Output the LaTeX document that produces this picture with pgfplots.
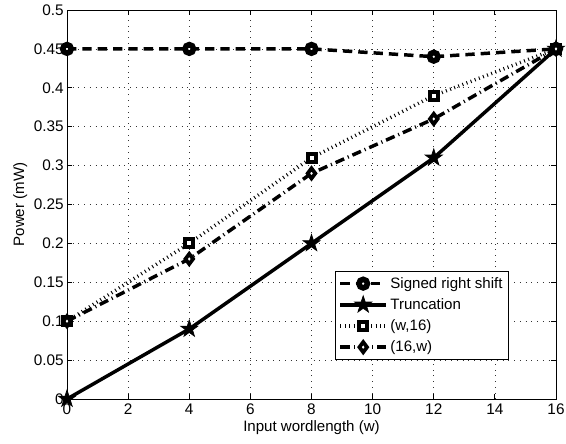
\documentclass[border=0pt]{standalone}
\usepackage{pgfplots}
\pgfplotsset{compat=1.18}
\usepackage{fontspec}
\setmainfont{Liberation Sans}
\usetikzlibrary{plotmarks}
\pgfdeclareplotmark{pentastar}{%
  \pgfpathmoveto{\pgfqpointpolar{90}{1.3\pgfplotmarksize}}%
  \pgfpathlineto{\pgfqpointpolar{126}{0.5\pgfplotmarksize}}%
  \pgfpathlineto{\pgfqpointpolar{162}{1.3\pgfplotmarksize}}%
  \pgfpathlineto{\pgfqpointpolar{198}{0.5\pgfplotmarksize}}%
  \pgfpathlineto{\pgfqpointpolar{234}{1.3\pgfplotmarksize}}%
  \pgfpathlineto{\pgfqpointpolar{270}{0.5\pgfplotmarksize}}%
  \pgfpathlineto{\pgfqpointpolar{306}{1.3\pgfplotmarksize}}%
  \pgfpathlineto{\pgfqpointpolar{342}{0.5\pgfplotmarksize}}%
  \pgfpathlineto{\pgfqpointpolar{18}{1.3\pgfplotmarksize}}%
  \pgfpathlineto{\pgfqpointpolar{54}{0.5\pgfplotmarksize}}%
  \pgfpathclose
  \pgfusepathqfillstroke}
\begin{document}
\begin{tikzpicture}
\begin{axis}[
  scale only axis,
  width=366.75pt, height=291.75pt,
  xmin=0, xmax=16, ymin=0, ymax=0.5,
  xtick={0,2,...,16},
  ytick={0,0.05,...,0.5},
  yticklabels={0,0.05,0.1,0.15,0.2,0.25,0.3,0.35,0.4,0.45,0.5},
  /pgf/number format/assume math mode=true,
  tick label style={font=\fontsize{11.5}{12}\selectfont},
  label style={font=\fontsize{11.3}{12}\selectfont},
  xlabel={Input wordlength (w)},
  ylabel={Power (mW)},
  xlabel style={yshift=2pt},
  ylabel style={yshift=-2pt},
  yticklabel style={xshift=1pt},
  xticklabel style={yshift=0pt},
  grid=major,
  major grid style={black!80, dash pattern=on 0.5pt off 3.8pt, line width=0.5pt},
  tick align=inside,
  tick style={black, line width=0.6pt},
  major tick length=4pt,
  axis line style={line width=0.7pt},
  legend style={at={(0.904,0.1)}, anchor=south east, font=\fontsize{11.3}{12.5}\selectfont, draw=black, line width=0.7pt, inner sep=2.5pt, row sep=2.2pt},
  legend cell align=left,
  legend image code/.code={\draw[mark repeat=2,mark phase=2] plot coordinates {(0cm,0cm) (0.6cm,0cm) (1.2cm,0cm)};},
]
\addplot[black, line width=2.6pt, dash pattern=on 7pt off 4.5pt, mark=*, mark size=3.2pt, mark options={solid, fill=white, line width=4.2pt}]
  coordinates {(0,0.45) (4,0.45) (8,0.45) (12,0.44) (16,0.45)};
\addlegendentry{Signed right shift}
\addplot[black, line width=2.6pt, mark=pentastar, mark size=5.2pt, mark options={solid, fill=black, line width=0.5pt}]
  coordinates {(0,0) (4,0.09) (8,0.2) (12,0.31) (16,0.45)};
\addlegendentry{Truncation}
\addplot[black, line width=2.6pt, dash pattern=on 0.7pt off 2.6pt, mark=square*, mark size=3pt, mark options={solid, fill=white, line width=3pt}]
  coordinates {(0,0.1) (4,0.2) (8,0.31) (12,0.39) (16,0.45)};
\addlegendentry{(w,16)}
\addplot[black, line width=2.6pt, dash pattern=on 7pt off 3pt on 0.8pt off 3pt, mark=diamond*, mark size=3.8pt, mark options={solid, fill=white, line width=2.8pt}]
  coordinates {(0,0.1) (4,0.18) (8,0.29) (12,0.36) (16,0.45)};
\addlegendentry{(16,w)}
\end{axis}
\pgfresetboundingbox
\path[use as bounding box] ([xshift=-50.25pt,yshift=-33pt]current axis.south west) rectangle ([xshift=7.5pt,yshift=7.5pt]current axis.north east);
\end{tikzpicture}
\end{document}
